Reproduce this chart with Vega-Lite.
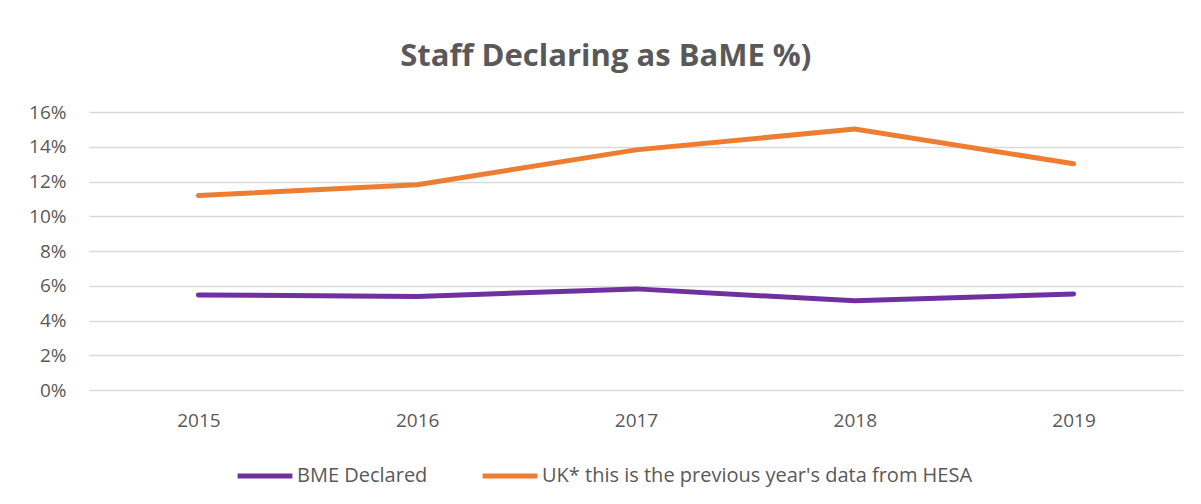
{
  "$schema": "https://vega.github.io/schema/vega-lite/v6.json",
  "autosize": "none",
  "width": 1094,
  "height": 278,
  "padding": {"left": 89, "top": 112, "right": 18, "bottom": 114},
  "background": "white",
  "title": {
    "text": "Staff Declaring as BaME %)",
    "anchor": "middle",
    "frame": "bounds",
    "fontSize": 31,
    "fontWeight": "bold",
    "font": "Open Sans",
    "color": "#595959",
    "offset": 30
  },
  "data": {
    "values": [
      {"year": "2015", "series": "BME Declared", "value": 0.0547},
      {"year": "2016", "series": "BME Declared", "value": 0.0538},
      {"year": "2017", "series": "BME Declared", "value": 0.0582},
      {"year": "2018", "series": "BME Declared", "value": 0.0513},
      {"year": "2019", "series": "BME Declared", "value": 0.0553},
      {"year": "2015", "series": "UK* this is the previous year's data from HESA", "value": 0.1119},
      {"year": "2016", "series": "UK* this is the previous year's data from HESA", "value": 0.1181},
      {"year": "2017", "series": "UK* this is the previous year's data from HESA", "value": 0.1382},
      {"year": "2018", "series": "UK* this is the previous year's data from HESA", "value": 0.1502},
      {"year": "2019", "series": "UK* this is the previous year's data from HESA", "value": 0.1302}
    ]
  },
  "mark": {"type": "line", "strokeWidth": 5, "strokeCap": "round", "strokeJoin": "miter"},
  "encoding": {
    "x": {
      "field": "year",
      "type": "ordinal",
      "scale": {"type": "point", "padding": 0.5},
      "axis": {
        "title": null,
        "labelAngle": 0,
        "labelFontSize": 19,
        "labelFont": "Open Sans",
        "labelColor": "#595959",
        "labelPadding": 21,
        "ticks": false,
        "domain": false,
        "grid": false
      }
    },
    "y": {
      "field": "value",
      "type": "quantitative",
      "scale": {"domain": [0, 0.16], "nice": false},
      "axis": {
        "title": null,
        "format": ".0%",
        "values": [0, 0.02, 0.04, 0.06, 0.08, 0.1, 0.12, 0.14, 0.16],
        "labelFontSize": 19,
        "labelFont": "Open Sans",
        "labelColor": "#595959",
        "labelPadding": 23,
        "ticks": false,
        "domain": false,
        "grid": true,
        "gridColor": "#d9d9d9",
        "gridWidth": 1.5
      }
    },
    "color": {
      "field": "series",
      "type": "nominal",
      "scale": {
        "domain": ["BME Declared", "UK* this is the previous year's data from HESA"],
        "range": ["#7030A0", "#ED7D31"]
      },
      "legend": {
        "title": null,
        "orient": "none",
        "legendX": 146,
        "legendY": 334,
        "direction": "horizontal",
        "symbolType": "stroke",
        "symbolSize": 3000,
        "symbolStrokeWidth": 5,
        "labelFontSize": 20,
        "labelFont": "Open Sans",
        "labelColor": "#595959",
        "labelLimit": 600,
        "labelOffset": 2,
        "columnPadding": 44
      }
    }
  },
  "config": {
    "view": {"stroke": null}
  }
}
